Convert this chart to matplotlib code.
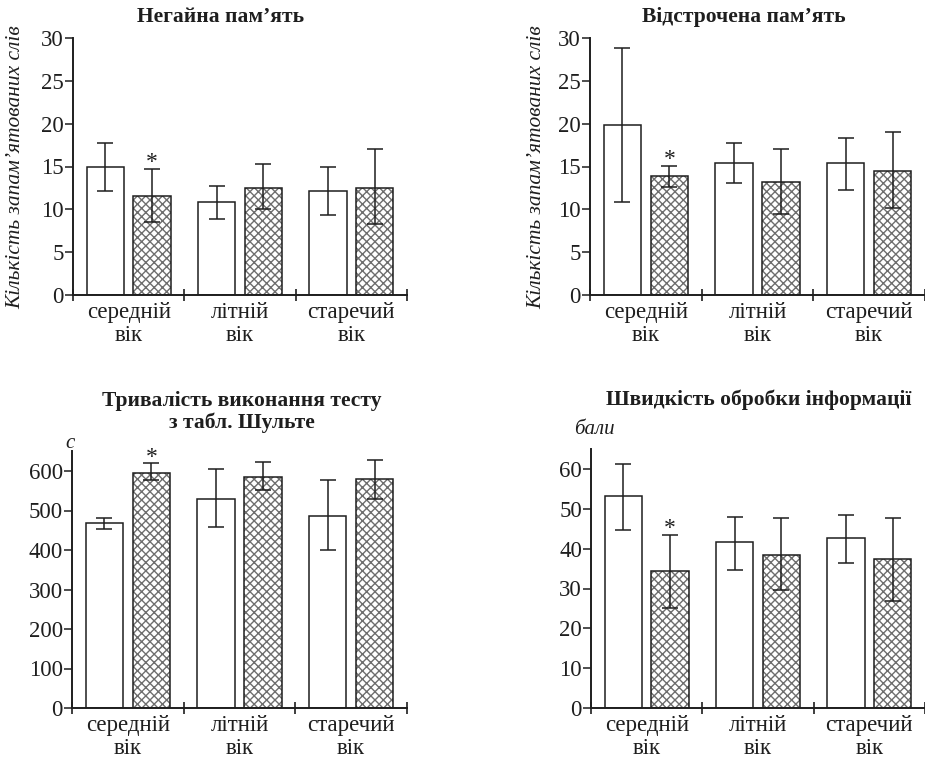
import matplotlib
matplotlib.use("Agg")
import matplotlib.pyplot as plt
import numpy as np

plt.rcParams['font.family'] = ['Liberation Serif', 'DejaVu Serif']
plt.rcParams['hatch.linewidth'] = 1.0

groups = ["середній\nвік", "літній\nвік", "старечий\nвік"]

# Panel A: immediate memory
imm_a = [14.9, 10.9, 12.1]
imm_a_lo = [12.1, 8.9, 9.3]
imm_a_hi = [17.7, 12.7, 14.9]
imm_b = [11.5, 12.5, 12.5]
imm_b_lo = [8.5, 10.0, 8.3]
imm_b_hi = [14.7, 15.3, 17.0]

# Panel B: delayed memory
del_a = [19.8, 15.4, 15.4]
del_a_lo = [10.9, 13.1, 12.2]
del_a_hi = [28.8, 17.7, 18.3]
del_b = [13.9, 13.2, 14.5]
del_b_lo = [12.6, 9.4, 10.2]
del_b_hi = [15.1, 17.0, 19.0]

# Panel C: Schulte test duration, s
sch_a = [468, 530, 487]
sch_a_lo = [453, 458, 401]
sch_a_hi = [482, 604, 576]
sch_b = [595, 586, 581]
sch_b_lo = [576, 553, 530]
sch_b_hi = [619, 624, 628]

# Panel D: information processing speed, points
spd_a = [53.1, 41.6, 42.6]
spd_a_lo = [44.8, 34.6, 36.5]
spd_a_hi = [61.3, 48.0, 48.5]
spd_b = [34.3, 38.4, 37.4]
spd_b_lo = [25.0, 29.6, 26.8]
spd_b_hi = [43.5, 47.6, 47.6]

star_group = 0  # significant difference marker on the hatched bar of this group

W, H = 925, 758
fig = plt.figure(figsize=(W / 100, H / 100), dpi=100)
INK = '#1e1e1e'


def px_axes(left, right, top_px, bottom_px):
    return fig.add_axes([left / W, 1 - bottom_px / H, (right - left) / W, (bottom_px - top_px) / H])


def draw_panel(ax, a, alo, ahi, b, blo, bhi, ylim, yticks):
    x = np.arange(len(groups))
    xa = x + 0.29
    xb = x + 0.71
    w = 0.335
    ax.bar(xa, a, width=w, facecolor='white', edgecolor=INK, linewidth=1.1, zorder=2)
    ax.bar(xb, b, width=w, facecolor='white', edgecolor='#6e6e6e', hatch='xxxx', linewidth=0, zorder=2)
    ax.bar(xb, b, width=w, facecolor='none', edgecolor=INK, linewidth=1.1, zorder=3)
    ea = [np.array(a) - np.array(alo), np.array(ahi) - np.array(a)]
    eb = [np.array(b) - np.array(blo), np.array(bhi) - np.array(b)]
    ax.errorbar(xa, a, yerr=ea, fmt='none', ecolor=INK, elinewidth=1.1, capsize=5.5, capthick=1.1, zorder=4)
    ax.errorbar(xb, b, yerr=eb, fmt='none', ecolor=INK, elinewidth=1.1, capsize=5.5, capthick=1.1, zorder=4)
    ax.annotate('*', (xb[star_group], bhi[star_group]), xytext=(0, -3), textcoords='offset points',
                ha='center', va='bottom', fontsize=17, color=INK)
    ax.set_xlim(0, len(groups))
    ax.set_ylim(*ylim)
    ax.set_yticks(yticks)
    ax.set_xticks(np.arange(len(groups) + 1))
    ax.set_xticklabels([])
    ax.set_xticks(x + 0.5, minor=True)
    ax.set_xticklabels(groups, minor=True, fontsize=16.5, linespacing=1.1, color=INK)
    ax.tick_params(axis='x', which='major', direction='inout', length=9, width=1.2, color=INK)
    ax.tick_params(axis='x', which='minor', length=0, pad=5)
    ax.tick_params(axis='y', direction='out', length=5.5, width=1.1, pad=1, labelsize=16.5,
                   color=INK, labelcolor=INK)
    for s in ['top', 'right']:
        ax.spines[s].set_visible(False)
    for s in ['left', 'bottom']:
        ax.spines[s].set_linewidth(1.4)
        ax.spines[s].set_color(INK)


ax1 = px_axes(73, 407, 38, 295)
draw_panel(ax1, imm_a, imm_a_lo, imm_a_hi, imm_b, imm_b_lo, imm_b_hi, (0, 30), [0, 5, 10, 15, 20, 25, 30])
ax2 = px_axes(590, 925, 38, 295)
draw_panel(ax2, del_a, del_a_lo, del_a_hi, del_b, del_b_lo, del_b_hi, (0, 30), [0, 5, 10, 15, 20, 25, 30])
ax3 = px_axes(72, 407, 708 - 650 * 237 / 600, 708)
draw_panel(ax3, sch_a, sch_a_lo, sch_a_hi, sch_b, sch_b_lo, sch_b_hi, (0, 650), [0, 100, 200, 300, 400, 500, 600])
ax4 = px_axes(591, 925, 708 - 65 * 239 / 60, 708)
draw_panel(ax4, spd_a, spd_a_lo, spd_a_hi, spd_b, spd_b_lo, spd_b_hi, (0, 65), [0, 10, 20, 30, 40, 50, 60])


def ftext(xp, yp, s, **kw):
    fig.text(xp / W, 1 - yp / H, s, **kw)


tkw = dict(ha='center', va='center', fontsize=15.5, fontweight='bold', color=INK)
ftext(221, 17, "Негайна пам’ять", **tkw)
ftext(744, 17, "Відстрочена пам’ять", **tkw)
ftext(242, 412, "Тривалість виконання тесту\nз табл. Шульте", linespacing=1.05, **tkw)
ftext(759, 400, "Швидкість обробки інформації", **tkw)

ylab = "Кількість запам’ятованих слів"
ftext(16, 167, ylab, rotation=90, ha='center', va='center', fontsize=15.5, style='italic', color=INK)
ftext(537, 167, ylab, rotation=90, ha='center', va='center', fontsize=15.5, style='italic', color=INK)
ftext(70, 443, "с", ha='center', va='center', fontsize=15, style='italic', color=INK)
ftext(594, 430, "бали", ha='center', va='center', fontsize=15, style='italic', color=INK)

fig.savefig("out.png", dpi=100, facecolor='white')
